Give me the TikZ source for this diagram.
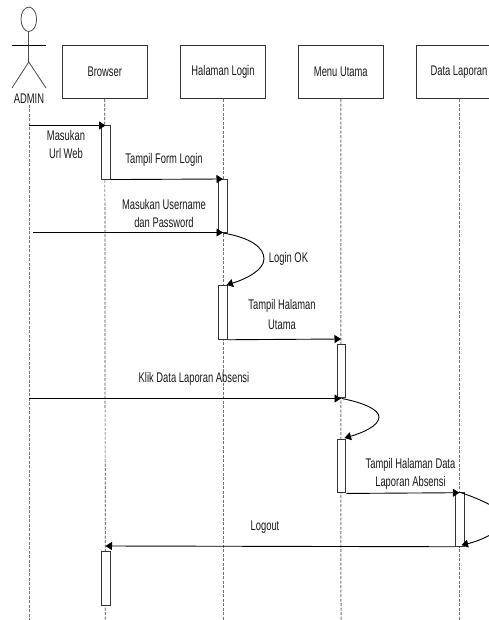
\documentclass[tikz,border=0pt]{standalone}
\usepackage{fontspec}
\setmainfont[FakeStretch=0.67]{Liberation Sans}
\usetikzlibrary{arrows.meta}
\tikzset{
  x=1pt,y=-1pt,
  every node/.style={font=\fontsize{14}{16}\selectfont,text=black!90},
  lifebox/.style={draw=black!80,line width=1pt,fill=white,minimum width=84.5pt,minimum height=53.5pt,inner sep=0pt},
  bar/.style={draw=black!80,line width=1pt,fill=white,minimum width=8.5pt,inner sep=0pt},
  lifeline/.style={draw=black!55,line width=1pt,dash pattern=on 3pt off 1.5pt},
  msg/.style={draw=black,line width=0.9pt,-{Triangle[length=6.5pt,width=8pt]}},
  actorline/.style={draw=black!70,line width=0.8pt},
  lbl/.style={align=center,inner sep=0pt}
}
\begin{document}
\begin{tikzpicture}
\useasboundingbox (0,0) rectangle (489,620);
\clip (0,0) rectangle (489,620);
% actor
\draw[actorline] (28.8,19.3) ellipse [x radius=7.8, y radius=12.2];
\coordinate (headBottom) at (28.8,31.5);
\coordinate (hip) at (28.8,62);
\coordinate (armL) at (12,45);
\coordinate (armR) at (46,45);
\coordinate (legL) at (12,88);
\coordinate (legR) at (46,88);
\draw[actorline] (headBottom) -- (hip);
\draw[draw=black,line width=0.8pt] (armL) -- (armR);
\draw[actorline] (legL) -- (hip) -- (legR);
\node[lbl] (admin) at (29,99) {ADMIN};
% head boxes
\node[lifebox] (browser) at (104.8,71.8) {Browser};
\node[lifebox] (login) at (223,71.8) {Halaman Login};
\node[lifebox] (menu) at (340.8,71.8) {Menu Utama};
\node[lifebox] (data) at (459,71.8) {Data Laporan};
% lifeline ends
\coordinate (aTop) at (29,105);
\coordinate (aEnd) at (29,620);
\coordinate (bEnd) at (105.3,620);
\coordinate (lEnd) at (223,620);
\coordinate (mEnd) at (341,620);
\coordinate (dEnd) at (459,620);
\draw[lifeline] (aTop) -- (aEnd);
\draw[lifeline,draw=black!75,line width=0.7pt] (browser.south) -- (bEnd);
\draw[lifeline] (login.south) -- (lEnd);
\draw[lifeline] (menu.south) -- (mEnd);
\draw[lifeline] (data.south) -- (dEnd);
% activation bars
\node[bar,minimum height=53.5pt] (b1) at (105.8,152.3) {};
\node[bar,minimum height=53.5pt] (l1) at (223.2,205.8) {};
\node[bar,minimum height=53.5pt] (l2) at (223.2,312.5) {};
\node[bar,minimum height=53.5pt] (m1) at (341.6,371.2) {};
\node[bar,minimum height=53.5pt] (m2) at (341.6,466.2) {};
\node[bar,minimum height=53.5pt] (d1) at (459.8,519.5) {};
\node[bar,minimum height=53.5pt] (b2) at (105.8,578.4) {};
% free ends
\coordinate (s1) at (29,125.5);
\coordinate (s3) at (33,232.5);
\coordinate (s5) at (29,398.5);
\coordinate (t1) at (105.5,125.5);
\coordinate (t2) at (223,179);
\coordinate (t3) at (223,232.5);
\coordinate (t4) at (341,339);
\coordinate (t5) at (341,398.5);
\coordinate (t6) at (459.3,492.7);
\coordinate (t7) at (105.5,546);
% messages
\draw[msg] (s1) -- (t1);
\draw[msg] (b1.south east) -- (t2);
\draw[msg] (s3) -- (t3);
\draw[msg] (l2.south east) -- (t4);
\draw[msg] (s5) -- (t5);
\draw[msg] (m2.south east) -- (t6);
\draw[msg] (d1.south west) -- (t7);
% self messages
\draw[msg] (l1.south) .. controls (252,238) and (264,248) .. (264,259) .. controls (264,270) and (246,279) .. (226.5,285);
\draw[msg] (m1.south) .. controls (365,403) and (379,410) .. (379,417) .. controls (379,426) and (362,433) .. (344.5,438);
\draw[msg] (d1.north) .. controls (480,499) and (505,510) .. (505,519) .. controls (505,530) and (480,541) .. (461.5,545);
% labels
\node[lbl] (n1) at (66,135.5) {Masukan};
\node[lbl] (n2) at (66,153.5) {Url Web};
\node[lbl] (n3) at (164,160) {Tampil Form Login};
\node[lbl] (n4) at (164,204.5) {Masukan Username};
\node[lbl] (n5) at (164,222) {dan Password};
\node[lbl] (n6) at (288.5,258.5) {Login OK};
\node[lbl] (n7) at (282,306) {Tampil Halaman};
\node[lbl] (n8) at (282,324.5) {Utama};
\node[lbl] (n9) at (194,379) {Klik Data Laporan Absensi};
\node[lbl] (n10) at (410.5,465) {Tampil Halaman Data};
\node[lbl] (n11) at (410.5,483) {Laporan Absensi};
\node[lbl] (n12) at (265,527) {Logout};
\end{tikzpicture}
\end{document}
